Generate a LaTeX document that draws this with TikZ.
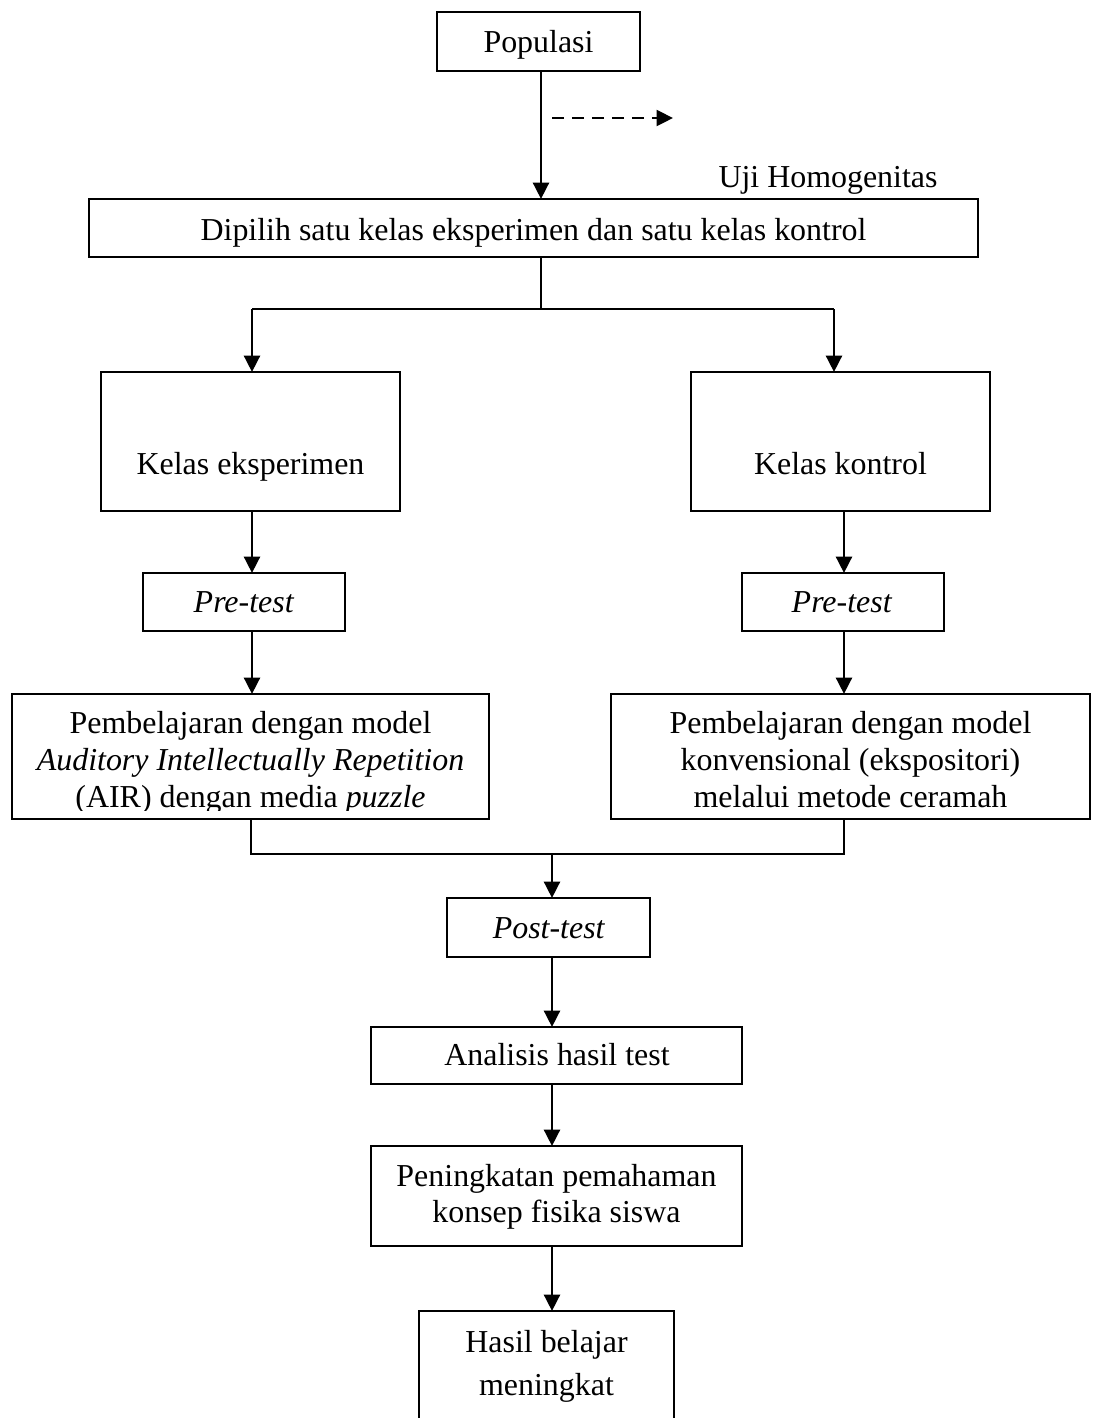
\documentclass[tikz,border=0pt]{standalone}
\usepackage{fontspec}
\setmainfont{Liberation Serif}
\usetikzlibrary{arrows.meta}
\def\pxu{0.3759pt}
\begin{document}
\begin{tikzpicture}[x=0.3759pt,y=-0.3759pt,
  box/.style={draw, line width=0.8pt, inner sep=0pt, outer sep=0pt},
  txt/.style={anchor=base, inner sep=0pt, font=\fontsize{12pt}{13.8pt}\selectfont},
  arr/.style={line width=1.1pt, -{Triangle[width=6pt,length=6.2pt]}},
  conn/.style={line width=0.8pt}]
\useasboundingbox (0,0) rectangle (1093,1418);
\clip (0,0) rectangle (1093,1418);

% boxes
\node[box, minimum width=203*\pxu, minimum height=59*\pxu] (pop) at (538.5,41.5) {};
\node[box, minimum width=889*\pxu, minimum height=58*\pxu] (dip) at (533.5,228) {};
\node[box, minimum width=299*\pxu, minimum height=139*\pxu] (ke) at (250.5,441.5) {};
\node[box, minimum width=299*\pxu, minimum height=139*\pxu] (kk) at (840.5,441.5) {};
\node[box, minimum width=202*\pxu, minimum height=58*\pxu] (pre1) at (244,602) {};
\node[box, minimum width=202*\pxu, minimum height=58*\pxu] (pre2) at (843,602) {};
\node[box, minimum width=477*\pxu, minimum height=125*\pxu] (pem1) at (250.5,756.5) {};
\node[box, minimum width=479*\pxu, minimum height=125*\pxu] (pem2) at (850.5,756.5) {};
\node[box, minimum width=203*\pxu, minimum height=59*\pxu] (post) at (548.5,927.5) {};
\node[box, minimum width=371*\pxu, minimum height=57*\pxu] (ana) at (556.5,1055.5) {};
\node[box, minimum width=371*\pxu, minimum height=100*\pxu] (pen) at (556.5,1196) {};
\node[box, minimum width=255*\pxu, minimum height=129*\pxu] (has) at (546.5,1375.5) {};

% texts
\node[txt] (popt) at (538.5,52) {Populasi};
\node[txt] (uji) at (828,187) {Uji Homogenitas};
\node[txt] (dipt) at (533.5,240) {Dipilih satu kelas eksperimen dan satu kelas kontrol};
\node[txt] (ket) at (250.5,474) {Kelas eksperimen};
\node[txt] (kkt) at (840.5,474) {Kelas kontrol};
\node[txt] (pre1t) at (244,612) {\textit{Pre-test}};
\node[txt] (pre2t) at (842,612) {\textit{Pre-test}};
\begin{scope}
\clip (0,694) rectangle (1093,810);
\node[txt] (pem1a) at (250.5,733) {Pembelajaran dengan model};
\node[txt] (pem1b) at (250.5,770) {\textit{Auditory Intellectually Repetition}};
\node[txt] (pem1c) at (250.5,807) {(AIR) dengan media \textit{puzzle}};
\node[txt] (pem2a) at (850.5,733) {Pembelajaran dengan model};
\node[txt] (pem2b) at (850.5,770) {konvensional (ekspositori)};
\node[txt] (pem2c) at (850.5,807) {melalui metode ceramah};
\end{scope}
\node[txt] (postt) at (549,938) {\textit{Post-test}};
\node[txt] (anat) at (557,1065) {Analisis hasil test};
\node[txt] (pena) at (556.5,1186) {Peningkatan pemahaman};
\node[txt] (penb) at (556.5,1222) {konsep fisika siswa};
\node[txt] (hasa) at (546.5,1352) {Hasil belajar};
\node[txt] (hasb) at (546.5,1395) {meningkat};

% coordinates
\coordinate (split) at (541,309);
\coordinate (bl) at (252,309);
\coordinate (br) at (834,309);
\coordinate (cl) at (252,0);
\coordinate (cr) at (844,0);
\coordinate (jl) at (251,854);
\coordinate (jr) at (844,854);
\coordinate (jm) at (552,854);
\coordinate (d1) at (552,118);
\coordinate (d2) at (673,118);

% connectors
\draw[arr] (pop.south -| split) -- (dip.north -| split);
\draw[arr, line width=1pt, dash pattern=on 4.5pt off 3pt] (d1) -- (d2);
\draw[conn] (dip.south -| split) -- (split);
\draw[conn] (bl) -- (br);
\draw[arr] (bl) -- (bl |- ke.north);
\draw[arr] (br) -- (br |- kk.north);
\draw[arr] (ke.south -| cl) -- (pre1.north -| cl);
\draw[arr] (pre1.south -| cl) -- (pem1.north -| cl);
\draw[arr] (kk.south -| cr) -- (pre2.north -| cr);
\draw[arr] (pre2.south -| cr) -- (pem2.north -| cr);
\draw[conn] (pem1.south -| jl) -- (jl) -- (jr) -- (pem2.south -| jr);
\draw[arr] (jm) -- (post.north -| jm);
\draw[arr] (post.south -| jm) -- (ana.north -| jm);
\draw[arr] (ana.south -| jm) -- (pen.north -| jm);
\draw[arr] (pen.south -| jm) -- (has.north -| jm);
\end{tikzpicture}
\end{document}
